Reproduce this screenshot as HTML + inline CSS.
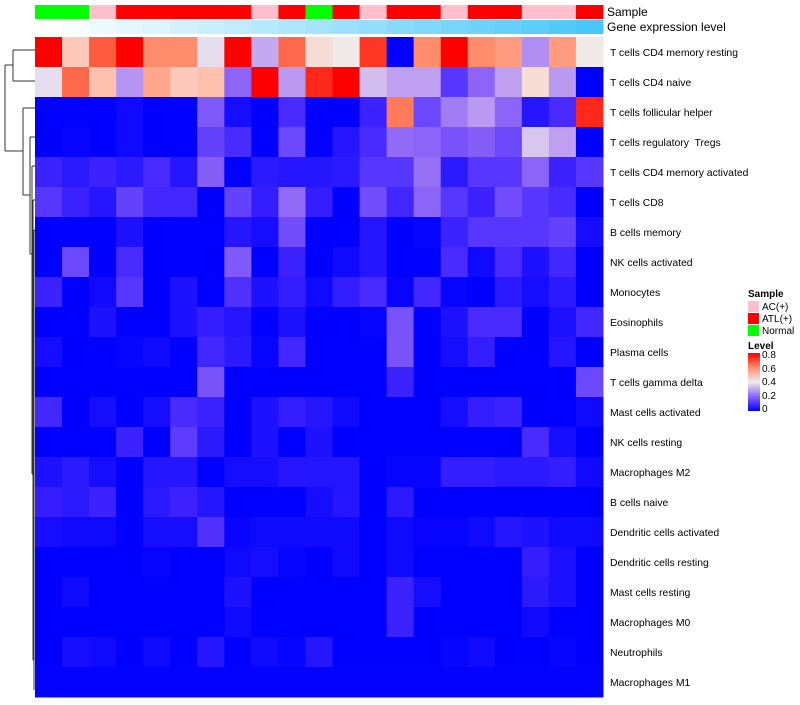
<!DOCTYPE html>
<html><head><meta charset="utf-8"><style>
body{margin:0;background:#fff;font-family:"Liberation Sans",sans-serif;}
svg text{font-family:"Liberation Sans",sans-serif;white-space:pre;}
</style></head><body>
<svg id="chart" width="800" height="700" xmlns="http://www.w3.org/2000/svg">
<g id="dendro" stroke="#333" stroke-width="1" fill="none"></g>
<g id="cells"></g>
<g id="annot"></g>
<g id="labels"></g>
<text x="607" y="16" font-size="12">Sample</text>
<text x="607" y="31" font-size="12">Gene expression level</text>
<g font-size="10">
<text x="748" y="297" font-weight="bold">Sample</text>
<rect x="748" y="301" width="11" height="11" fill="#FFC0CB"/>
<text x="762" y="310">AC(+)</text>
<rect x="748" y="313" width="11" height="11" fill="#FF0000"/>
<text x="762" y="322">ATL(+)</text>
<rect x="748" y="325" width="11" height="11" fill="#00FF00"/>
<text x="762" y="334">Normal</text>
<text x="748" y="349" font-weight="bold">Level</text>
<defs><linearGradient id="lg" x1="0" y1="1" x2="0" y2="0">
<stop offset="0" stop-color="#0000FF"/><stop offset="0.25" stop-color="#8C64F8"/><stop offset="0.5" stop-color="#EEEEEE"/><stop offset="0.75" stop-color="#FF8C6C"/><stop offset="1" stop-color="#FF0000"/></linearGradient></defs>
<rect x="748" y="353" width="12" height="58" fill="url(#lg)"/>
<text x="762" y="358">0.8</text>
<text x="762" y="372">0.6</text>
<text x="762" y="385">0.4</text>
<text x="762" y="399">0.2</text>
<text x="762" y="412">0</text>
</g>
</svg>
<script>
const rowNames=["T cells CD4 memory resting","T cells CD4 naive","T cells follicular helper","T cells regulatory  Tregs","T cells CD4 memory activated","T cells CD8","B cells memory","NK cells activated","Monocytes","Eosinophils","Plasma cells","T cells gamma delta","Mast cells activated","NK cells resting","Macrophages M2","B cells naive","Dendritic cells activated","Dendritic cells resting","Mast cells resting","Macrophages M0","Neutrophils","Macrophages M1"];
const samples=["Normal","Normal","AC","ATL","ATL","ATL","ATL","ATL","AC","ATL","Normal","ATL","AC","ATL","ATL","AC","ATL","ATL","AC","AC","ATL"];
const geneLevel=[0,1,2,3,4,5,6,7,8,9,10,11,12,13,14,15,16,17,18,19,20];
const r1=[0.8,0.48,0.68,0.8,0.6,0.6,0.38,0.8,0.31,0.66,0.44,0.41,0.73,0,0.6,0.8,0.6,0.57,0.27,0.57,0.41];
const r2=[0.38,0.66,0.5,0.28,0.55,0.48,0.5,0.2,0.8,0.29,0.75,0.8,0.34,0.3,0.3,0.12,0.2,0.3,0.44,0.29,0];
const r3=[0,0,0,0.02,0,0,0.18,0.03,0,0.1,0,0,0.08,0.63,0.15,0.24,0.29,0.2,0.05,0.1,0.75];
const r4=[0,0.01,0,0.02,0,0,0.14,0.1,0,0.15,0,0.05,0.1,0.21,0.2,0.17,0.19,0.15,0.35,0.3,0];
const r5=[0.08,0.06,0.08,0.06,0.1,0.05,0.19,0,0.06,0.05,0.05,0.06,0.12,0.12,0.22,0.06,0.12,0.12,0.2,0.08,0.12];
const r6=[0.12,0.08,0.05,0.14,0.09,0.09,0,0.14,0.07,0.21,0.07,0,0.16,0.09,0.2,0.12,0.08,0.16,0.12,0.1,0];
const r7=[0,0,0,0.04,0,0,0,0.05,0.03,0.16,0,0,0.05,0,0.01,0.08,0.12,0.12,0.12,0.14,0.03];
const r8=[0,0.15,0,0.1,0,0,0,0.18,0,0.08,0,0.02,0.05,0,0,0.1,0.02,0.1,0.04,0.09,0];
const r9=[0.08,0,0.02,0.12,0,0.04,0,0.11,0.04,0.07,0.02,0.07,0.1,0.01,0.09,0.01,0,0.06,0.03,0.06,0];
const r10=[0,0,0.04,0,0,0.04,0.07,0.05,0,0.04,0,0,0.01,0.17,0,0.04,0.1,0.1,0,0.04,0.09];
const r11=[0.03,0,0,0.01,0.02,0,0.09,0.06,0.01,0.09,0,0,0,0.17,0,0.03,0.07,0,0,0.05,0];
const r12=[0,0,0,0,0,0,0.17,0,0,0,0,0,0,0.08,0,0,0,0,0,0,0.15];
const r13=[0.09,0,0.03,0,0.03,0.1,0.08,0,0.04,0.07,0.05,0.02,0,0,0,0.03,0.07,0.08,0,0,0.02];
const r14=[0,0,0,0.08,0,0.13,0.06,0,0.04,0,0.04,0,0,0,0,0,0,0,0.1,0.03,0];
const r15=[0.04,0.06,0.03,0,0.05,0.05,0,0.03,0.03,0.05,0.05,0.05,0,0.01,0.01,0.07,0.07,0.06,0.06,0.07,0.02];
const r16=[0.07,0.06,0.08,0,0.06,0.08,0.05,0,0,0,0.03,0.05,0,0.06,0,0,0,0,0,0,0];
const r17=[0.03,0.02,0.02,0,0.03,0.03,0.11,0.01,0.02,0.02,0.02,0.02,0,0.02,0.01,0.01,0.02,0.05,0.04,0.02,0.02];
const r18=[0,0,0,0,0.01,0,0,0.02,0.03,0.01,0,0.02,0,0.02,0,0,0,0,0.07,0.04,0];
const r19=[0,0.02,0,0,0,0,0,0.04,0,0,0,0,0,0.08,0.03,0,0,0,0.06,0.04,0];
const r20=[0,0,0,0,0,0,0,0.02,0,0,0,0,0,0.08,0,0,0,0,0.02,0,0];
const r21=[0,0.03,0.02,0,0.02,0,0.05,0,0.02,0.01,0.05,0,0,0,0,0.01,0.02,0,0,0.01,0];
const r22=[0.005,0.005,0.005,0.005,0.005,0.005,0.005,0.005,0.005,0.005,0.005,0.005,0.005,0.005,0.005,0.005,0.005,0.005,0.005,0.005,0.005];
const values=[r1,r2,r3,r4,r5,r6,r7,r8,r9,r10,r11,r12,r13,r14,r15,r16,r17,r18,r19,r20,r21,r22];

const NS="http://www.w3.org/2000/svg";
const X0=35,X1=603,Y0=37,RH=30;
const nC=samples.length, CW=(X1-X0)/nC;
const xPos=i=>X0+i*CW, yPos=j=>Y0+j*RH;
const stops=[[0,[0,0,255]],[0.1,[74,43,255]],[0.2,[140,100,248]],[0.3,[191,160,240]],[0.4,[238,238,238]],[0.5,[255,192,174]],[0.6,[255,140,108]],[0.7,[255,80,52]],[0.8,[255,0,0]]];
function col(v){v=Math.max(0,Math.min(0.8,v));for(let k=1;k<stops.length;k++){if(v<=stops[k][0]){const a=stops[k-1],b=stops[k],t=(v-a[0])/(b[0]-a[0]);const c=a[1].map((x,i)=>Math.round(x+(b[1][i]-x)*t));return `rgb(${c})`;}}return "rgb(255,0,0)";}
function mk(tag,attrs,parent){const e=document.createElementNS(NS,tag);for(const k in attrs)e.setAttribute(k,attrs[k]);parent.appendChild(e);return e;}
const cells=document.getElementById('cells');
values.forEach((row,j)=>row.forEach((v,i)=>{
 const r=mk('rect',{x:xPos(i),y:yPos(j),width:CW+0.5,height:RH+0.5,fill:col(v)},cells);
 
 
}));
const sCol={Normal:"#00FF00",AC:"#FFC0CB",ATL:"#FF0000"};
const an=document.getElementById('annot');
const gMax=Math.max(...geneLevel);
samples.forEach((s,i)=>{
 const r=mk('rect',{x:xPos(i),y:5,width:CW+0.5,height:14,fill:sCol[s]},an);
 
 
 const t=geneLevel[i]/gMax;
 const c=[255,255,255].map((w,k)=>Math.round(w+([74,200,248][k]-w)*t));
 const g=mk('rect',{x:xPos(i),y:20,width:CW+0.5,height:14,fill:`rgb(${c})`},an);
 
 
});
const lb=document.getElementById('labels');
rowNames.forEach((n,j)=>{
 const t=mk('text',{x:610,y:yPos(j)+RH/2+4,'font-size':10.4,fill:'#000'},lb);
 t.textContent=n;
 
 
});
const d=document.getElementById('dendro');
const segs=[[13,50,13,81],[13,50,35,50],[13,81,35,81],[5,65,5,151],[5,65,13,65],[5,151,23,151],
[23,108,23,195],[23,108,35,108],[23,195,30,195],[30,137,30,254],[30,137,35,137],[30,254,32,254],
[32,166,32,474],[32,166,35,166],[32,474,33,474],[33,200,33,660],[33,200,35,200],[33,660,34,660],[34,230,34,690],[34,230,35,230]];
segs.forEach(s=>{const l=mk('line',{x1:s[0],y1:s[1],x2:s[2],y2:s[3]},d);
 
 });
</script>
</body></html>
